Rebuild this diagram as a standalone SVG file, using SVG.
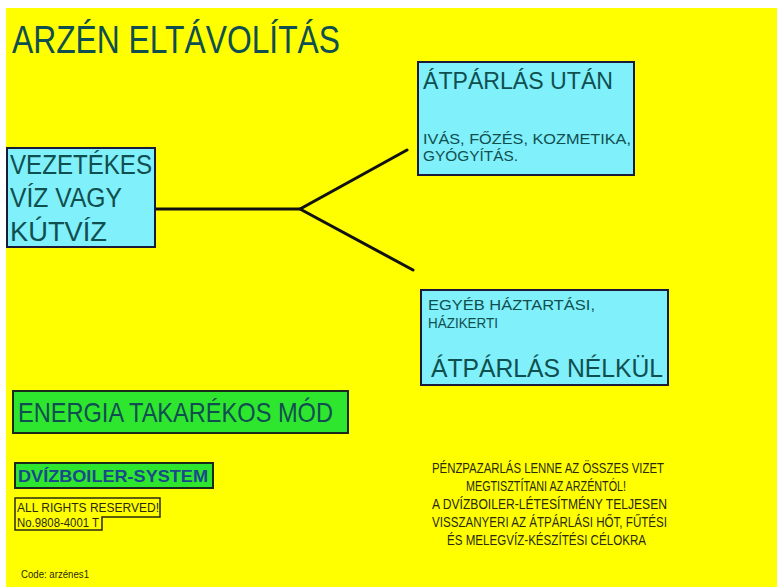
<svg xmlns="http://www.w3.org/2000/svg" width="777" height="587" viewBox="0 0 777 587">
<style>
.t{font-family:"Liberation Sans",Arial,sans-serif;}
.teal{fill:#104f4f;}
.cyan{fill:#80f0fb;stroke:#1a1a3a;stroke-width:2;}
.green{fill:#2fe62f;stroke:#1a2a1a;stroke-width:2;}
.dark{fill:#2a2a10;}
.conn{stroke:#111;stroke-width:3;fill:none;stroke-linecap:round;}
</style>
<rect x="0" y="0" width="777" height="587" fill="#ffffff"/>
<rect x="6" y="8" width="771" height="579" fill="#ffff00"/>
<g id="title"><text class="t teal" x="12" y="53" font-size="38" textLength="328" lengthAdjust="spacingAndGlyphs">ARZÉN ELTÁVOLÍTÁS</text></g>
<g id="connectors">
<polyline class="conn" points="155,209 300,209 407,150"/>
<line class="conn" x1="300" y1="209" x2="413" y2="270"/>
</g>
<g id="source">
<rect class="cyan" x="7" y="148" width="148" height="99"/>
<text class="t teal" x="10" y="174" font-size="27" textLength="142" lengthAdjust="spacingAndGlyphs">VEZETÉKES</text>
<text class="t teal" x="10" y="207" font-size="27" textLength="112" lengthAdjust="spacingAndGlyphs">VÍZ VAGY</text>
<text class="t teal" x="10" y="241" font-size="27" textLength="97" lengthAdjust="spacingAndGlyphs">KÚTVÍZ</text>
</g>
<g id="after">
<rect class="cyan" x="418" y="62" width="216" height="113"/>
<text class="t teal" x="423" y="89" font-size="24" textLength="190" lengthAdjust="spacingAndGlyphs">ÁTPÁRLÁS UTÁN</text>
<text class="t teal" x="423" y="144" font-size="15" textLength="208" lengthAdjust="spacingAndGlyphs">IVÁS, FŐZÉS, KOZMETIKA,</text>
<text class="t teal" x="423" y="161" font-size="15" textLength="95" lengthAdjust="spacingAndGlyphs">GYÓGYÍTÁS.</text>
</g>
<g id="without">
<rect class="cyan" x="421" y="290" width="247" height="95"/>
<text class="t teal" x="428" y="310" font-size="14" textLength="167" lengthAdjust="spacingAndGlyphs">EGYÉB HÁZTARTÁSI,</text>
<text class="t teal" x="428" y="328" font-size="14" textLength="70" lengthAdjust="spacingAndGlyphs">HÁZIKERTI</text>
<text class="t teal" x="431" y="377" font-size="25" textLength="232" lengthAdjust="spacingAndGlyphs">ÁTPÁRLÁS NÉLKÜL</text>
</g>
<g id="energy">
<rect class="green" x="13" y="391" width="335" height="42"/>
<text class="t teal" x="18" y="422" font-size="28" textLength="315" lengthAdjust="spacingAndGlyphs">ENERGIA TAKARÉKOS MÓD</text>
</g>
<g id="dvizboiler">
<rect class="green" x="15" y="463" width="198" height="25"/>
<text class="t" fill="#1a4a8a" font-weight="bold" x="18" y="482" font-size="17" textLength="190" lengthAdjust="spacingAndGlyphs">DVÍZBOILER-SYSTEM</text>
</g>
<g id="rights">
<path d="M15,498 H160 V517 H102 V530 H15 Z" fill="none" stroke="#2a2a10" stroke-width="1.5"/>
<text class="t dark" x="17" y="512" font-size="12" textLength="142" lengthAdjust="spacingAndGlyphs">ALL RIGHTS RESERVED!</text>
<text class="t dark" x="17" y="527" font-size="12" textLength="82" lengthAdjust="spacingAndGlyphs">No.9808-4001 T</text>
</g>
<g id="code"><text class="t dark" x="21" y="578" font-size="10" textLength="68" lengthAdjust="spacingAndGlyphs">Code: arzénes1</text></g>
<g id="note" class="t dark" font-size="14">
<text x="432" y="473" textLength="232" lengthAdjust="spacingAndGlyphs">PÉNZPAZARLÁS LENNE AZ ÖSSZES VIZET</text>
<text x="466" y="491" textLength="160" lengthAdjust="spacingAndGlyphs">MEGTISZTÍTANI AZ ARZÉNTÓL!</text>
<text x="432" y="509" textLength="235" lengthAdjust="spacingAndGlyphs">A  DVÍZBOILER-LÉTESÍTMÉNY TELJESEN</text>
<text x="432" y="527" textLength="235" lengthAdjust="spacingAndGlyphs">VISSZANYERI AZ ÁTPÁRLÁSI HŐT, FŰTÉSI</text>
<text x="447" y="545" textLength="199" lengthAdjust="spacingAndGlyphs">ÉS MELEGVÍZ-KÉSZÍTÉSI CÉLOKRA</text>
</g>
</svg>
